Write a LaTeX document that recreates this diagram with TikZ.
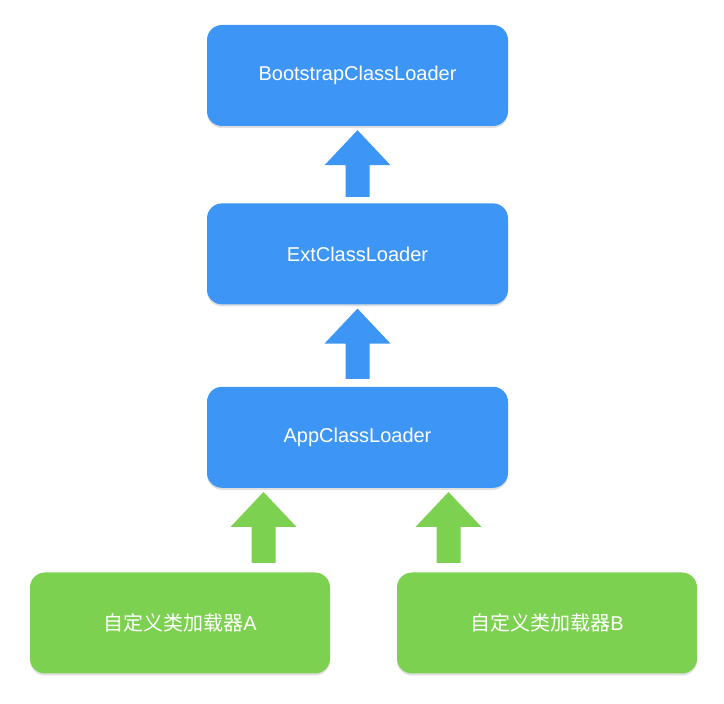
\documentclass[tikz,border=0pt]{standalone}
\usepackage{fontspec}
\setmainfont{Liberation Sans}
\newfontfamily\cjk{Noto Sans CJK SC}
\usetikzlibrary{positioning,calc,shadows}
\definecolor{loaderblue}{HTML}{3D96F5}
\definecolor{loadergreen}{HTML}{7DD150}
\tikzset{loader/.style={rectangle, rounded corners=15pt, minimum width=301pt, minimum height=101pt, fill=loaderblue, text=white, font=\fontsize{20}{24}\selectfont, drop shadow={shadow xshift=0pt, shadow yshift=-2pt, opacity=0.25}},
custom/.style={loader, minimum width=300pt, fill=loadergreen, font=\cjk\fontsize{20}{24}\selectfont}}
% upward block arrow from (#1) to (#2)
\newcommand{\uparrowblock}[3]{
	\fill[#3] ($(#1)+(-12,0)$) -- ($(#1)+(12,0)$) -- ($(#2)+(12,-35)$) -- ($(#2)+(33,-35)$) -- (#2) -- ($(#2)+(-33,-35)$) -- ($(#2)+(-12,-35)$) -- cycle;}

\begin{document}
\begin{tikzpicture}[x=1pt,y=1pt]
	\useasboundingbox (0,0) rectangle (724,704);
	\node[loader] (boot) at (357.5,628.5) {BootstrapClassLoader};
	\node[loader, below=77pt of boot] (ext) {ExtClassLoader};
	\node[loader, below=82pt of ext] (app) {AppClassLoader};
	\node[custom] (cla) at (180,81) {自定义类加载器{\rmfamily A}};
	\node[custom] (clb) at (547,81) {自定义类加载器{\rmfamily B}};
	\coordinate (headext) at ($(boot.south)+(0,-4)$);
	\coordinate (headapp) at ($(ext.south)+(0,-4)$);
	\coordinate (heada) at ($(app.south)+(-94,-4)$);
	\coordinate (headb) at ($(app.south)+(91,-4)$);
	\uparrowblock{ext.north |- 0,507}{headext}{loaderblue}
	\uparrowblock{app.north |- 0,325}{headapp}{loaderblue}
	\uparrowblock{heada |- 0,141}{heada}{loadergreen}
	\uparrowblock{headb |- 0,141}{headb}{loadergreen}
\end{tikzpicture}
\end{document}
